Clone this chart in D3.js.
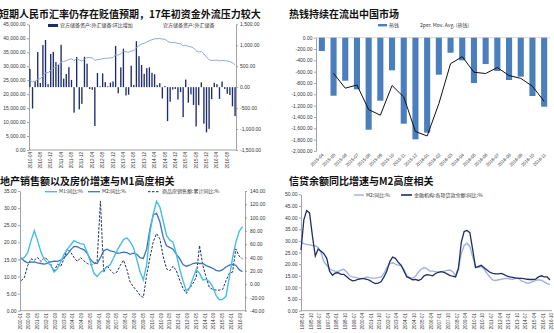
<!DOCTYPE html>
<html>
<head>
<meta charset="utf-8">
<script src="https://cdn.jsdelivr.net/npm/d3@7"></script>
<style>
  html, body { margin: 0; padding: 0; background: #fff; }
  svg { display: block; }
  text { font-family: "Liberation Sans", Arial, "Noto Sans CJK SC", sans-serif; }
  .title { font-family: "Noto Sans CJK SC", sans-serif; font-weight: 700; font-size: 10px; fill: #111; }
  .tick text { font-size: 5px; fill: #333; }
  .xlab { font-size: 4.5px; fill: #333; }
  .leg { font-family: "Noto Sans CJK SC", sans-serif; font-size: 5px; fill: #333; }
  .domain { stroke: #8c8c8c; stroke-width: 0.8; }
  .tick line { stroke: #8c8c8c; stroke-width: 0.8; }
</style>
</head>
<body>
<svg id="chart" width="554" height="333"></svg>
<script>
// ---------- Panel 1: FX reserves (level + monthly change), 2010-04 .. 2016-11 ----------
const reserveStart = "2010-04";
const reserveEnd = "2016-11";
const reserveLevel = [
  24905, 24395, 24543, 25380, 25480, 26483, 27609, 27680, 28473,
  29317, 29914, 30447, 31458, 31662, 31975, 32452, 32625, 32017, 32738, 32209, 31811,
  32536, 33096, 33050, 32988, 32061, 32400, 32420, 32730, 32850, 32870, 32980, 33116,
  34100, 33954, 34426, 35345, 35148, 34967, 35478, 35530, 36627, 37366, 37894, 38213,
  38666, 39137, 39480, 39788, 39838, 39932, 39662, 39688, 38877, 38529, 38473, 38430,
  38134, 38015, 37300, 37481, 37111, 36938, 36513, 35573, 35141, 35255, 34383, 33304,
  32309, 32023, 32126, 32197, 31917, 32052, 32011, 31852, 31664, 31206, 30516
];
const reserveChange = [
  434, -510, 148, 837, 100, 1003, 1126, 71, 793,
  844, 597, 533, 1011, 204, 313, 477, 173, -608, 721, -529, -398,
  725, 560, -46, -62, -927, 339, 20, 330, 120, 20, 110, 136,
  984, -146, 472, 919, -197, -181, 511, 52, 1097, 739, 528, 319,
  453, 471, 343, 308, 50, 94, -270, 26, -811, -348, -56, -43,
  -296, -119, -715, 181, -370, -173, -425, -939, -432, 114, -872, -1079,
  -995, -286, 103, 71, -280, 135, -41, -159, -188, -458, -691
];
const p1LeftTicks = [0, 5000, 10000, 15000, 20000, 25000, 30000, 35000, 40000, 45000];
const p1RightTicks = [-1500, -1000, -500, 0, 500, 1000, 1500];

// ---------- Panel 2: hot money flows ----------
const hotMonths = ["2015-04","2015-05","2015-06","2015-07","2015-08","2015-09","2015-10","2015-11","2015-12",
  "2016-01","2016-02","2016-03","2016-04","2016-05","2016-06","2016-07","2016-08","2016-09","2016-10","2016-11"];
const hotMoney = [-235, -1024, -759, -912, -1624, -1112, -576, -1518, -1794, -1676,
  -653, -265, -400, -800, -465, -588, -747, -688, -1029, -1218];
const hotMovAvg = [null, -630, -891, -835, -1268, -1368, -844, -1047, -1656, -1735,
  -1165, -459, -335, -610, -632, -527, -668, -718, -858, -1124];
const p2Ticks = [-2000, -1800, -1600, -1400, -1200, -1000, -800, -600, -400, -200, 0];

// ---------- Panel 3: M1, M2 and property sales, quarterly points from 2000-02 ----------
const p3Start = "2000-02";
const m1Yoy = [15.0, 15.6, 17.0, 20.5, 23.4, 20.5, 17.2, 15.0, 14.0, 13.3,
  11.3, 12.3, 14.3, 16.5, 18.0, 19.2, 20.5, 20.0, 19.6, 19.4,
  17.0, 14.3, 11.0, 10.0, 11.2, 11.9, 12.8, 13.5, 15.5, 17.5,
  19.2, 20.8, 21.3, 20.2, 18.5, 15.0, 11.4, 9.0, 13.4, 23.0,
  28.3, 32.0, 30.3, 26.3, 22.0, 20.7, 20.0, 16.5, 12.2, 8.8,
  5.8, 6.8, 9.5, 12.0, 11.0, 9.0, 9.2, 8.5, 7.0, 4.5,
  3.2, 3.3, 4.2, 9.5, 15.5, 20.0, 23.2, 24.6];
const m2YoyA = [15.5, 14.5, 14.0, 14.2, 14.3, 14.0, 13.8, 13.6, 13.8, 14.3,
  14.5, 14.4, 14.8, 15.5, 16.5, 17.8, 18.8, 18.7, 18.2, 17.8,
  16.8, 15.0, 14.0, 13.8, 15.5, 17.5, 18.0, 17.5, 17.3, 16.8,
  16.9, 17.1, 17.0, 16.5, 16.8, 16.5, 15.5, 15.3, 18.0, 24.0,
  28.0, 28.5, 26.0, 21.5, 19.0, 18.5, 18.0, 16.5, 15.2, 13.5,
  13.0, 13.3, 13.8, 14.0, 13.8, 13.8, 13.2, 12.8, 12.4, 11.8,
  11.6, 12.0, 12.8, 13.3, 13.5, 13.3, 12.0, 11.4];
const salesYoy = [5, 10, 28, 38, 36, 40, 34, 40, 37, 30,
  19, 30, 27, 38, 53, 48, 40, 34, 40, 35,
  31, 29, 30, 34, 125, 18, 28, 21, 16, 18,
  28, 36, 22, 3, -4, -10, -17, -20, 13, 40,
  64, 76, 68, 42, 23, 20, 27, 20, 6, -6,
  -14, -6, 1, 10, 58, 28, 10, -5, -8, -9,
  -9, -8, 5, 16, 18, 53, 42, 38];
const p3LeftTicks = [0, 5, 10, 15, 20, 25, 30, 35];
const p3RightTicks = [-40, -20, 0, 20, 40, 60, 80, 100, 120, 140];

// ---------- Panel 4: M2 and loan growth, quarterly points from 1995-01 ----------
const p4Start = "1995-01";
const m2YoyB = [29.5, 28.8, 28.5, 28.3, 28.0, 27.8, 27.2, 25.0, 21.0, 19.5,
  18.0, 17.3, 17.0, 16.8, 17.5, 17.8, 16.5, 15.0, 14.5, 14.3,
  14.0, 13.7, 14.0, 14.5, 14.2, 14.0, 14.0, 14.2, 14.5, 16.0,
  18.5, 20.2, 20.6, 20.0, 19.6, 19.3, 17.5, 15.0, 14.2, 14.0,
  14.8, 16.5, 17.8, 18.5, 18.0, 17.0, 17.0, 16.8, 16.5, 16.8,
  17.0, 17.3, 17.5, 16.8, 15.0, 18.5, 24.5, 28.0, 29.0, 27.5,
  23.0, 18.8, 18.5, 19.0, 17.8, 16.0, 14.5, 13.2, 13.0, 13.3,
  13.5, 13.8, 13.9, 13.6, 13.5, 14.0, 13.8, 12.8, 12.4, 11.8,
  12.0, 12.5, 13.0, 13.3, 13.0, 12.4, 11.6, 11.3];
const loanYoy = [26.0, 39.0, 43.0, 42.0, 32.0, 23.5, 26.5, 25.5, 24.5, 22.5,
  17.0, 15.2, 16.2, 16.3, 15.6, 15.6, 14.6, 13.5, 12.8, 13.0,
  13.5, 13.8, 13.8, 13.5, 13.0, 12.2, 11.6, 11.8, 12.5, 14.5,
  17.0, 21.0, 23.0, 22.5, 20.8, 19.5, 17.0, 14.5, 14.0, 13.3,
  13.4, 13.0, 13.5, 15.0, 15.5, 15.3, 15.0, 16.0, 16.5, 16.8,
  16.5, 15.8, 15.2, 14.8, 14.5, 18.0, 29.5, 34.0, 34.5, 33.5,
  26.0, 18.5, 19.0, 19.5, 18.5, 17.5, 16.5, 16.0, 15.8, 15.8,
  16.0, 15.5, 14.8, 14.5, 14.3, 14.0, 14.0, 13.9, 13.8, 13.5,
  13.4, 13.4, 13.6, 14.5, 15.0, 14.5, 14.5, 13.2];
const p4Ticks = [0, 5, 10, 15, 20, 25, 30, 35, 40, 45, 50];

// ---------- helpers ----------
const svg = d3.select("#chart");
const parseMonth = d3.timeParse("%Y-%m");
const fmtMonth = d3.timeFormat("%Y-%m");
const num = d3.formatLocale({decimal: ".", thousands: ",", grouping: [3], currency: ["", ""], minus: "-"}).format(",.2f");

function styleAxis(g) {
  g.selectAll(".tick text").attr("fill", "#333");
  return g;
}
function title(x, y, txt) {
  svg.append("text").attr("class", "title").attr("x", x).attr("y", y).text(txt);
}
function legendLine(x1, x2, y, color, width, dash) {
  svg.append("line").attr("x1", x1).attr("x2", x2).attr("y1", y).attr("y2", y)
    .attr("stroke", color).attr("stroke-width", width).attr("stroke-dasharray", dash || null);
}
function legendText(x, y, txt) {
  svg.append("text").attr("class", "leg").attr("x", x).attr("y", y).attr("dy", "0.35em").text(txt);
}
function monthSeries(start, n, step) {
  const d0 = parseMonth(start);
  return d3.range(n).map(i => d3.timeMonth.offset(d0, i * step));
}

// ================= Panel 1 =================
{
  const months = d3.timeMonth.range(parseMonth(reserveStart), d3.timeMonth.offset(parseMonth(reserveEnd), 1));
  const x = d3.scaleBand().domain(months.map(fmtMonth)).range([29, 236]).paddingInner(0.48).paddingOuter(0.1);
  const yL = d3.scaleLinear().domain([0, 45000]).range([150, 24.3]);
  const yR = d3.scaleLinear().domain([-1500, 1500]).range([150, 24.3]);

  title(-1, 17.8, "短期人民币汇率仍存在贬值预期，17年初资金外流压力较大");

  svg.append("g").attr("transform", "translate(29,0)")
    .call(d3.axisLeft(yL).tickValues(p1LeftTicks).tickFormat(num).tickSize(2).tickSizeOuter(0).tickPadding(1.5))
    .call(styleAxis);
  svg.append("g").attr("transform", "translate(236,0)")
    .call(d3.axisRight(yR).tickValues(p1RightTicks).tickFormat(num).tickSize(2).tickSizeOuter(0).tickPadding(2))
    .call(styleAxis);
  svg.append("line").attr("x1", 29).attr("x2", 236).attr("y1", 150).attr("y2", 150)
    .attr("stroke", "#8c8c8c").attr("stroke-width", 0.8);

  const keys = months.map(fmtMonth);
  svg.append("g").selectAll("rect").data(reserveChange).join("rect")
    .attr("x", (d, i) => x(keys[i]))
    .attr("width", x.bandwidth())
    .attr("y", d => Math.min(yR(d), yR(0)))
    .attr("height", d => Math.abs(yR(d) - yR(0)))
    .attr("fill", "#1d2c6b");

  svg.append("path").datum(reserveLevel)
    .attr("fill", "none").attr("stroke", "#8fa9d6").attr("stroke-width", 1)
    .attr("d", d3.line().x((d, i) => x(keys[i]) + x.bandwidth() / 2).y(d => yL(d)));

  svg.append("g").selectAll("text").data(keys.filter((k, i) => i % 4 === 0)).join("text")
    .attr("class", "xlab")
    .attr("transform", d => `translate(${x(d) + x.bandwidth() / 2},152) rotate(-90)`)
    .attr("text-anchor", "end").attr("dy", "0.35em").text(d => d);

  svg.append("rect").attr("x", 48).attr("y", 24).attr("width", 10).attr("height", 3).attr("fill", "#1d2c6b");
  legendText(60, 25.5, "官方储备资产:外汇储备:环比增加");
  legendText(163, 25.5, "官方储备资产:外汇储备");
}

// ================= Panel 2 =================
{
  const x = d3.scaleBand().domain(hotMonths).range([316, 550]).paddingInner(0.48).paddingOuter(0.24);
  const y = d3.scaleLinear().domain([-2000, 0]).range([151, 37.7]);

  title(289, 17.8, "热钱持续在流出中国市场");

  svg.append("g").attr("transform", "translate(316,0)")
    .call(d3.axisLeft(y).tickValues(p2Ticks).tickFormat(num).tickSize(2).tickSizeOuter(0).tickPadding(1.5))
    .call(styleAxis);
  svg.append("line").attr("x1", 316).attr("x2", 550).attr("y1", y(0)).attr("y2", y(0))
    .attr("stroke", "#bdbdbd").attr("stroke-width", 0.6);

  svg.append("g").selectAll("rect").data(hotMoney).join("rect")
    .attr("x", (d, i) => x(hotMonths[i]))
    .attr("width", x.bandwidth())
    .attr("y", y(0))
    .attr("height", d => y(d) - y(0))
    .attr("fill", "#4a7ebd");

  const pts = hotMovAvg.map((v, i) => ({m: hotMonths[i], v})).filter(p => p.v !== null);
  svg.append("path").datum(pts)
    .attr("fill", "none").attr("stroke", "#111").attr("stroke-width", 1)
    .attr("d", d3.line().x(p => x(p.m) + x.bandwidth() / 2).y(p => y(p.v)));

  svg.append("g").selectAll("text").data(hotMonths).join("text")
    .attr("class", "xlab")
    .attr("transform", d => `translate(${x(d) + x.bandwidth() / 2 + 1},154) rotate(-45)`)
    .attr("text-anchor", "end").attr("dy", "0.35em").text(d => d);

  svg.append("rect").attr("x", 378).attr("y", 24).attr("width", 9).attr("height", 2.4).attr("fill", "#4a7ebd");
  legendText(389, 25.2, "热钱");
  legendText(420, 25.2, "2per. Mov. Avg. (热钱)");
}

// ================= Panel 3 =================
{
  const dates = monthSeries(p3Start, m1Yoy.length, 3);
  const x = d3.scaleTime().domain([parseMonth("2000-01"), parseMonth("2016-11")]).range([20, 242.5]);
  const yL = d3.scaleLinear().domain([0, 35]).range([310.7, 191]);
  const yR = d3.scaleLinear().domain([-40, 140]).range([310.7, 191]);

  title(0, 184.5, "地产销售额以及房价增速与M1高度相关");

  svg.append("g").attr("transform", "translate(20,0)")
    .call(d3.axisLeft(yL).tickValues(p3LeftTicks).tickFormat(num).tickSize(2).tickSizeOuter(0).tickPadding(1.5))
    .call(styleAxis);
  svg.append("g").attr("transform", "translate(245,0)")
    .call(d3.axisRight(yR).tickValues(p3RightTicks).tickFormat(num).tickSize(2).tickSizeOuter(0).tickPadding(3))
    .call(styleAxis);
  svg.append("line").attr("x1", 20).attr("x2", 245).attr("y1", 310.7).attr("y2", 310.7)
    .attr("stroke", "#8c8c8c").attr("stroke-width", 0.8);

  const lineL = d3.line().x((d, i) => x(dates[i])).y(d => yL(d));
  const lineR = d3.line().x((d, i) => x(dates[i])).y(d => yR(d));
  svg.append("path").datum(salesYoy).attr("fill", "none").attr("stroke", "#1f2d5e")
    .attr("stroke-width", 1).attr("stroke-dasharray", "2.5,1.5").attr("d", lineR);
  svg.append("path").datum(m2YoyA).attr("fill", "none").attr("stroke", "#3b74bd")
    .attr("stroke-width", 1.3).attr("d", lineL);
  svg.append("path").datum(m1Yoy).attr("fill", "none").attr("stroke", "#45bde8")
    .attr("stroke-width", 1.4).attr("d", lineL);

  const tk = d3.range(0, 203, 8).map(i => d3.timeMonth.offset(parseMonth("2000-01"), i));
  svg.append("g").selectAll("text").data(tk).join("text")
    .attr("class", "xlab")
    .attr("transform", d => `translate(${x(d)},313) rotate(-90)`)
    .attr("text-anchor", "end").attr("dy", "0.35em").text(d => fmtMonth(d));

  legendLine(45, 57, 191.7, "#45bde8", 1.4);
  legendText(59, 191.7, "M1:同比:%");
  legendLine(88, 100, 191.7, "#3b74bd", 1.3);
  legendText(102, 191.7, "M2:同比:%");
  legendLine(148, 160, 191.7, "#1f2d5e", 1, "2.5,1.5");
  legendText(162, 191.7, "商品房销售额:累计同比:%");
}

// ================= Panel 4 =================
{
  const dates = monthSeries(p4Start, m2YoyB.length, 3);
  const x = d3.scaleTime().domain([parseMonth("1995-01"), parseMonth("2016-11")]).range([301, 551]);
  const y = d3.scaleLinear().domain([0, 50]).range([310.7, 194.3]);

  title(289, 184.5, "信贷余额同比增速与M2高度相关");

  svg.append("g").attr("transform", "translate(301,0)")
    .call(d3.axisLeft(y).tickValues(p4Ticks).tickFormat(num).tickSize(2).tickSizeOuter(0).tickPadding(1.5))
    .call(styleAxis);
  svg.append("line").attr("x1", 301).attr("x2", 552).attr("y1", 310.7).attr("y2", 310.7)
    .attr("stroke", "#8c8c8c").attr("stroke-width", 0.8);

  const line = d3.line().x((d, i) => x(dates[i])).y(d => y(d));
  svg.append("path").datum(m2YoyB).attr("fill", "none").attr("stroke", "#9fb2dc")
    .attr("stroke-width", 1.4).attr("d", line);
  svg.append("path").datum(loanYoy).attr("fill", "none").attr("stroke", "#1f2f68")
    .attr("stroke-width", 1.3).attr("d", line);

  const tk = d3.range(0, 263, 9).map(i => d3.timeMonth.offset(parseMonth("1995-01"), i));
  svg.append("g").selectAll("text").data(tk).join("text")
    .attr("class", "xlab")
    .attr("transform", d => `translate(${x(d) + 1.5},313) rotate(-90)`)
    .attr("text-anchor", "end").attr("dy", "0.35em").text(d => fmtMonth(d));

  legendLine(354, 364, 195, "#9fb2dc", 1.4);
  legendText(366, 195, "M2:同比:%");
  legendLine(401, 412, 195, "#1f2f68", 1.6);
  legendText(414, 195, "金融机构:各项贷款余额:同比:%");
}
</script>
</body>
</html>
